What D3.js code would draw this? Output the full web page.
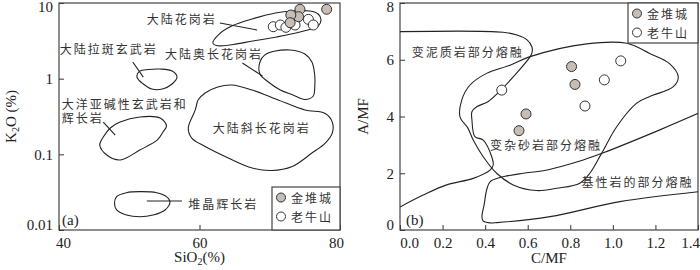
<!DOCTYPE html>
<html>
<head>
<meta charset="utf-8">
<script src="https://cdn.jsdelivr.net/npm/d3@7"></script>
<style>
  body { margin: 0; background: #fff; }
  svg { display: block; }
  .num { font-family: "Liberation Serif", "Times New Roman", serif; font-size: 15px; fill: #222; }
  .cjk { font-family: "Noto Sans CJK SC", sans-serif; font-size: 12px; fill: #333; letter-spacing: 2px; }
  .field { fill: none; stroke: #222; stroke-width: 1.1; }
</style>
</head>
<body>
<svg id="chart" width="700" height="270"></svg>
<script>
// ---- panel (a): SiO2 vs K2O ----
const siTicks = [40, 60, 80];
const k2oTicks = [0.01, 0.1, 1, 10];

const jdcSiO2 = [74.3, 74.1, 73.0, 72.9, 78.1];
const jdcK2O = [8.26, 6.59, 6.94, 5.49, 8.26];
const lnsSiO2 = [70.5, 71.5, 72.3, 73.6, 75.5, 76.2];
const lnsK2O = [4.86, 5.12, 4.77, 5.12, 6.08, 5.12];

// field outlines [SiO2, K2O]
const contGranite = [[61.9, 2.96], [62.8, 3.89], [64.6, 4.97], [67.5, 6.15], [70.8, 7.38], [73.3, 7.84], [75.7, 7.84],
  [76.9, 7.16], [77.3, 5.96], [76.9, 4.97], [74.3, 4.14], [71.0, 3.56], [67.6, 3.15], [64.8, 2.83], [62.4, 2.74]];
const contTholeiite = [[51.1, 1.05], [51.5, 1.26], [52.7, 1.32], [54.4, 1.34], [56.1, 1.26], [56.8, 1.05],
  [56.1, 0.85], [54.7, 0.73], [53.2, 0.73], [52.0, 0.85]];
const contTrondhjemite = [[68.6, 1.66], [69.3, 2.06], [70.8, 2.32], [72.9, 2.39], [75.0, 2.12], [76.0, 1.66], [76.4, 1.12],
  [76.4, 0.753], [76.2, 0.59], [75.0, 0.531], [73.3, 0.609], [71.5, 0.708], [69.8, 0.904], [68.6, 1.15]];
const oceanBasalt = [[47.3, 0.223], [48.7, 0.267], [51.5, 0.312], [54.4, 0.302], [55.3, 0.237], [54.8, 0.197],
  [54.0, 0.155], [51.5, 0.114], [48.7, 0.0841], [46.8, 0.098], [45.8, 0.133], [46.3, 0.169]];
const contPlagiogranite = [[59.8, 0.523], [60.8, 0.647], [62.6, 0.776], [64.6, 0.825], [67.5, 0.708], [71.2, 0.523],
  [75.0, 0.386], [77.9, 0.347], [78.9, 0.267], [78.9, 0.191], [77.9, 0.141], [76.0, 0.104], [73.2, 0.0691],
  [70.3, 0.0611], [67.5, 0.066], [64.1, 0.0896], [60.8, 0.127], [58.9, 0.164], [58.4, 0.223], [59.4, 0.386]];
const cumulateGabbro = [[47.9, 0.0225], [48.2, 0.0276], [49.6, 0.0311], [51.5, 0.0321], [53.9, 0.0311], [55.3, 0.0276],
  [55.8, 0.0237], [55.1, 0.0184], [53.4, 0.0158], [51.5, 0.015], [49.6, 0.0158], [48.2, 0.0184]];

const leadersA = [
  [[62.9, 5.45], [68.2, 4.40]],
  [[50.5, 1.66], [52.0, 1.05]],
  [[66.1, 1.61], [69.0, 1.08]],
  [[46.3, 0.267], [48.0, 0.180]],
  [[52.5, 0.0242], [57.5, 0.0242]]
];
const labelsA = [
  { text: "大陆花岗岩", x: 52.5, y: 6.33 },
  { text: "大陆拉斑玄武岩", x: 40.1, y: 2.54 },
  { text: "大陆奥长花岗岩", x: 55.1, y: 2.12 },
  { text: "大洋亚碱性玄武岩和", x: 40.4, y: 0.47 },
  { text: "辉长岩", x: 40.4, y: 0.305 },
  { text: "大陆斜长花岗岩", x: 61.9, y: 0.223 },
  { text: "堆晶辉长岩", x: 58.4, y: 0.0227 }
];

// ---- panel (b): C/MF vs A/MF ----
const cmfTicks = [0, 0.2, 0.4, 0.6, 0.8, 1.0, 1.2, 1.4];
const amfTicks = [0, 2, 4, 6, 8];

const jdcCMF = [0.806, 0.822, 0.592, 0.559];
const jdcAMF = [5.76, 5.13, 4.09, 3.50];
const lnsCMF = [0.478, 0.869, 0.960, 1.037];
const lnsAMF = [4.93, 4.37, 5.29, 5.96];

const metapelite = [[0, 6.99], [0.484, 6.97], [0.55, 6.87], [0.597, 6.70], [0.62, 6.45], [0.62, 6.24], [0.611, 6.10],
  [0.474, 4.93], [0.413, 4.52], [0.362, 4.35], [0.338, 4.17], [0.338, 3.88], [0.352, 3.29], [0.391, 3.17],
  [0.431, 2.58], [0.438, 2.29], [0.423, 2.11], [0.344, 1.82], [0.219, 1.59], [0.109, 1.23], [0, 0.81]];
const metagreywacke = [[0.611, 6.11], [0.877, 6.56], [1.065, 6.58], [1.171, 6.23], [1.265, 5.87], [1.307, 5.40],
  [1.284, 5.05], [1.171, 4.70], [1.112, 4.47], [1.018, 3.64], [0.947, 2.70], [0.892, 2.00], [0.845, 1.65],
  [0.736, 1.47], [0.642, 1.39], [0.532, 1.59], [0.454, 2.00], [0.391, 2.58], [0.344, 3.17], [0.319, 3.59],
  [0.282, 3.99], [0.29, 4.58], [0.329, 5.11], [0.407, 5.52], [0.517, 5.81]];
const basaltic = [[1.401, 4.11], [1.218, 3.52], [0.955, 2.72], [0.861, 2.47], [0.673, 2.09], [0.579, 2.00],
  [0.47, 1.85], [0.423, 1.70], [0.407, 1.41], [0.395, 0.88], [0.385, 0.49], [0.39, 0.32], [0.423, 0.25],
  [0.456, 0.26], [0.705, 0.47], [1.033, 1.00], [1.401, 1.35]];

const labelsB = [
  { text: "变泥质岩部分熔融", x: 0.055, y: 6.28 },
  { text: "变杂砂岩部分熔融", x: 0.423, y: 3.0 },
  { text: "基性岩的部分熔融", x: 0.853, y: 1.70 }
];

const legendNames = ["金堆城", "老牛山"];
const legendFills = ["#c6beb6", "#fff"];

// ---- layout ----
const svg = d3.select("#chart");
const pa = { left: 59, right: 340, top: 3, bottom: 230 };
const pb = { left: 400, right: 698, top: 3, bottom: 230 };

const xa = d3.scaleLinear().domain([40, 80]).range([pa.left, pa.right]);
const ya = d3.scaleLog().domain([0.01, 10]).range([pa.bottom, pa.top]);
const xb = d3.scaleLinear().domain([0, 1.4]).range([pb.left, pb.right]);
const yb = d3.scaleLinear().domain([0, 8]).range([pb.bottom, pb.top]);

function clip(id, p) {
  svg.append("clipPath").attr("id", id).append("rect")
    .attr("x", p.left).attr("y", p.top).attr("width", p.right - p.left).attr("height", p.bottom - p.top);
}
clip("clipA", pa);
clip("clipB", pb);

function drawAxes(p, x, y, xTicks, yTicks, xFmt, yFmt, shifts) {
  const gx = svg.append("g").attr("class", "num").attr("transform", `translate(0,${p.bottom})`)
    .call(d3.axisBottom(x).tickValues(xTicks).tickFormat(xFmt).tickSizeInner(-5).tickSizeOuter(0).tickPadding(7));
  const gy = svg.append("g").attr("class", "num").attr("transform", `translate(${p.left},0)`)
    .call(d3.axisLeft(y).tickValues(yTicks).tickFormat(yFmt).tickSizeInner(-5).tickSizeOuter(0).tickPadding(6));
  [gx, gy].forEach((g) => {
    g.select(".domain").remove();
    g.selectAll("line").attr("stroke", "#333");
    g.selectAll("text").attr("fill", "#222").style("font-size", "15px")
      .style("font-family", '"Liberation Serif", serif');
  });
  // keep end labels inside like the original
  gx.selectAll("text").attr("dx", (d, i) => (i === 0 ? shifts.x0 : i === xTicks.length - 1 ? shifts.x1 : 0));
  gy.selectAll("text").attr("dy", (d, i) => (i === 0 ? "-0.05em" : i === yTicks.length - 1 ? "0.55em" : "0.32em"));

  svg.append("rect").attr("x", p.left).attr("y", p.top)
    .attr("width", p.right - p.left).attr("height", p.bottom - p.top)
    .attr("fill", "none").attr("stroke", "#444").attr("stroke-width", 1.2);
}

drawAxes(pa, xa, ya, siTicks, k2oTicks, d3.format("d"), (d) => String(d), { x0: 4, x1: -4 });
drawAxes(pb, xb, yb, cmfTicks, amfTicks, d3.format(".1f"), d3.format("d"), { x0: 9, x1: -8 });

// ---- fields ----
const closedA = d3.line().x((d) => xa(d[0])).y((d) => ya(d[1])).curve(d3.curveCatmullRomClosed.alpha(0.5));
const straightA = d3.line().x((d) => xa(d[0])).y((d) => ya(d[1]));
const gA = svg.append("g").attr("clip-path", "url(#clipA)");
[contGranite, contTholeiite, contTrondhjemite, oceanBasalt, contPlagiogranite, cumulateGabbro].forEach((f) => {
  gA.append("path").attr("class", "field").attr("d", closedA(f));
});
leadersA.forEach((l) => gA.append("path").attr("class", "field").attr("d", straightA(l)));

svg.append("g").selectAll("text").data(labelsA).join("text")
  .attr("class", "cjk")
  .attr("x", (d) => xa(d.x)).attr("y", (d) => ya(d.y))
  .attr("dominant-baseline", "central")
  .text((d) => d.text);

const openB = d3.line().x((d) => xb(d[0])).y((d) => yb(d[1])).curve(d3.curveCatmullRom.alpha(0.5));
const closedB = d3.line().x((d) => xb(d[0])).y((d) => yb(d[1])).curve(d3.curveCatmullRomClosed.alpha(0.5));
const gB = svg.append("g").attr("clip-path", "url(#clipB)");
gB.append("path").attr("class", "field").attr("d", openB(metapelite));
gB.append("path").attr("class", "field").attr("d", closedB(metagreywacke));
gB.append("path").attr("class", "field").attr("d", openB(basaltic));

svg.append("g").selectAll("text").data(labelsB).join("text")
  .attr("class", "cjk")
  .attr("x", (d) => xb(d.x)).attr("y", (d) => yb(d.y))
  .attr("dominant-baseline", "central")
  .text((d) => d.text);

// ---- samples ----
function drawPoints(xs, ys, x, y, fill) {
  svg.append("g").selectAll("circle").data(xs).join("circle")
    .attr("cx", (d) => x(d)).attr("cy", (d, i) => y(ys[i])).attr("r", 5)
    .attr("fill", fill).attr("stroke", "#333").attr("stroke-width", 1);
}
drawPoints(lnsSiO2, lnsK2O, xa, ya, legendFills[1]);
drawPoints(jdcSiO2, jdcK2O, xa, ya, legendFills[0]);
drawPoints(lnsCMF, lnsAMF, xb, yb, legendFills[1]);
drawPoints(jdcCMF, jdcAMF, xb, yb, legendFills[0]);

// ---- legends ----
function legend(x0, y0, w, h) {
  const g = svg.append("g");
  g.append("rect").attr("x", x0).attr("y", y0).attr("width", w).attr("height", h)
    .attr("fill", "#fff").attr("stroke", "#444").attr("stroke-width", 1.2);
  legendNames.forEach((n, i) => {
    const cy = y0 + 10.5 + i * 19;
    g.append("circle").attr("cx", x0 + 9).attr("cy", cy).attr("r", 4.5)
      .attr("fill", legendFills[i]).attr("stroke", "#333");
    g.append("text").attr("class", "cjk").attr("x", x0 + 19).attr("y", cy)
      .attr("dominant-baseline", "central").text(n);
  });
}
legend(272, 187, pa.right - 272, pa.bottom - 187);
legend(628, pb.top, pb.right - 628, 40);

// ---- panel tags and axis titles ----
svg.append("text").attr("class", "num").attr("x", 62).attr("y", 220).attr("dominant-baseline", "central").text("(a)");
svg.append("text").attr("class", "num").attr("x", 406).attr("y", 220).attr("dominant-baseline", "central").text("(b)");

const tx = svg.append("text").attr("class", "num").attr("x", (pa.left + pa.right) / 2).attr("y", 262)
  .attr("text-anchor", "middle");
tx.append("tspan").text("SiO");
tx.append("tspan").attr("font-size", "10px").attr("dy", 3).text("2");
tx.append("tspan").attr("dy", -3).text("(%)");

const ty = svg.append("text").attr("class", "num")
  .attr("transform", `translate(16,${(pa.top + pa.bottom) / 2}) rotate(-90)`)
  .attr("text-anchor", "middle");
ty.append("tspan").text("K");
ty.append("tspan").attr("font-size", "10px").attr("dy", 3).text("2");
ty.append("tspan").attr("dy", -3).text("O (%)");

svg.append("text").attr("class", "num").attr("x", (pb.left + pb.right) / 2).attr("y", 263)
  .attr("text-anchor", "middle").text("C/MF");
svg.append("text").attr("class", "num")
  .attr("transform", `translate(368,${(pb.top + pb.bottom) / 2}) rotate(-90)`)
  .attr("text-anchor", "middle").text("A/MF");
</script>
</body>
</html>
